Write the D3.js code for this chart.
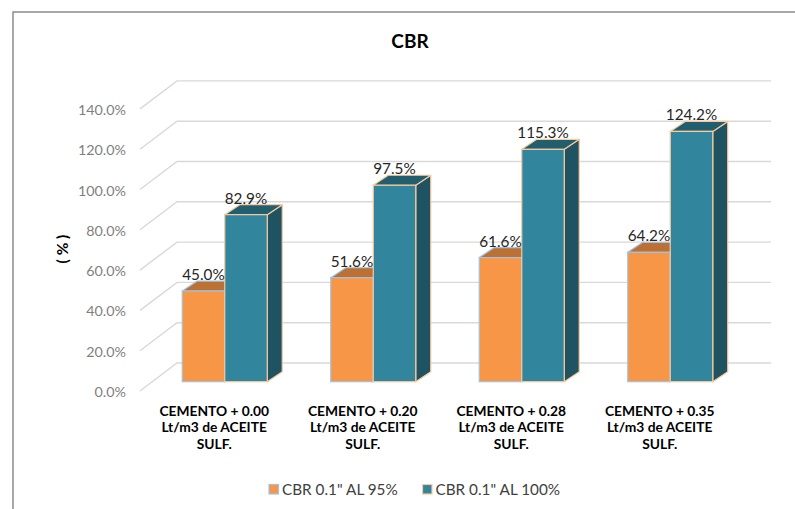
<!DOCTYPE html>
<html><head><meta charset="utf-8">
<script src="https://cdn.jsdelivr.net/npm/d3@7"></script>
<style>
html,body{margin:0;padding:0;background:#fff;}
svg{display:block;font-family:Lato, "Open Sans", sans-serif;}
</style></head>
<body>
<svg id="chart" width="795" height="509"></svg>
<script>
const categories = [
  ["CEMENTO + 0.00","Lt/m3 de ACEITE","SULF."],
  ["CEMENTO + 0.20","Lt/m3 de ACEITE","SULF."],
  ["CEMENTO + 0.28","Lt/m3 de ACEITE","SULF."],
  ["CEMENTO + 0.35","Lt/m3 de ACEITE","SULF."]
];
const seriesNames = ['CBR 0.1" AL 95%', 'CBR 0.1" AL 100%'];
const cbr95 = [45.0, 51.6, 61.6, 64.2];
const cbr100 = [82.9, 97.5, 115.3, 124.2];
const yTicks = [0, 20, 40, 60, 80, 100, 120, 140];

const svg = d3.select("#chart");
const W = 795, H = 509;

// frame
svg.append("rect").attr("x",13).attr("y",12).attr("width",W+20).attr("height",H+20)
  .attr("fill","#fff").attr("stroke","#8c8c8c").attr("stroke-width",1.5);

// title
svg.append("text").attr("x",410).attr("y",48).attr("text-anchor","middle")
  .attr("font-weight","bold").attr("font-size",19).attr("fill","#000").text("CBR");

// geometry
const frontX0 = 140, frontX1 = 734;
const depth = {dx: 37, dy: -28};
const y = d3.scaleLinear().domain([0,140]).range([391, 108.9]);
const x = d3.scaleBand().domain(d3.range(categories.length)).range([frontX0, frontX1]).paddingInner(0).paddingOuter(0);
const barShift = {dx: 10.5, dy: -9.3};
const barDepth = {dx: 15, dy: -10};
const groupPad = 31.75;
const xs = d3.scaleBand().domain([0,1]).range([0, x.bandwidth() - 2*groupPad]).padding(0);

// gridlines
const grid = svg.append("g").attr("stroke","#d9d9d9").attr("stroke-width",1.4).attr("fill","none");
yTicks.forEach(t => {
  const yy = y(t);
  grid.append("path").attr("d", `M${frontX0},${yy}L${frontX0+depth.dx},${yy+depth.dy}L${frontX1+depth.dx},${yy+depth.dy}`);
});

// y tick labels
svg.append("g").selectAll("text").data(yTicks).join("text")
  .attr("x",126).attr("y",d=>y(d)+1).attr("dy","0.35em").attr("text-anchor","end")
  .attr("font-size",14.3).attr("fill","#7f7f7f").text(d=>d.toFixed(1)+"%");

// y axis title
svg.append("text").attr("transform","translate(68,249) rotate(-90)").attr("text-anchor","middle")
  .attr("font-weight","bold").attr("font-size",15.5).attr("fill","#000").text("( % )");

const styles = [
  {front:"#F79646", top:"#BC7034", side:"#B0642C", stroke:"#9DC3E6"},
  {front:"#31859C", top:"#215F6E", side:"#1F5362", stroke:"#F9C99F"}
];
const series = [cbr95, cbr100];

function drawBar(g, x0, w, v, st){
  const yb = y(0) + barShift.dy, yt = y(v) + barShift.dy;
  const dx = barDepth.dx, dy = barDepth.dy;
  g.append("path").attr("d",`M${x0+w},${yb}L${x0+w+dx},${yb+dy}L${x0+w+dx},${yt+dy}L${x0+w},${yt}Z`)
    .attr("fill",st.side).attr("stroke",st.stroke).attr("stroke-width",1.2).attr("stroke-linejoin","round");
  g.append("path").attr("d",`M${x0},${yt}L${x0+dx},${yt+dy}L${x0+w+dx},${yt+dy}L${x0+w},${yt}Z`)
    .attr("fill",st.top).attr("stroke",st.stroke).attr("stroke-width",1.2).attr("stroke-linejoin","round");
  g.append("rect").attr("x",x0).attr("y",yt).attr("width",w).attr("height",yb-yt)
    .attr("fill",st.front).attr("stroke",st.stroke).attr("stroke-width",1.2);
}

const bars = svg.append("g");
const labels = [];
categories.forEach((c,i) => {
  const gx = x(i) + groupPad + barShift.dx;
  series.forEach((s,j) => {
    const bx = gx + xs(j);
    drawBar(bars, bx, xs.bandwidth(), s[i], styles[j]);
    labels.push({x: bx + xs.bandwidth()/2, y: y(s[i]) + barShift.dy - 11, t: s[i].toFixed(1)+"%"});
  });
});

svg.append("g").selectAll("text").data(labels).join("text")
  .attr("x",d=>d.x).attr("y",d=>d.y).attr("text-anchor","middle")
  .attr("font-size",15.3).attr("fill","#262626").text(d=>d.t);

// category labels
const cat = svg.append("g");
categories.forEach((c,i) => {
  const cx = x(i) + x.bandwidth()/2;
  const t = cat.append("text").attr("text-anchor","middle").attr("font-weight","bold")
    .attr("font-size",13.8).attr("fill","#000");
  c.forEach((line,k) => {
    t.append("tspan").attr("x",cx).attr("y",415.5 + k*16.5).text(line);
  });
});

// legend
const leg = svg.append("g");
const legItems = [{x:269}, {x:422.5}];
legItems.forEach((li,j) => {
  leg.append("rect").attr("x",li.x).attr("y",484.5).attr("width",9.5).attr("height",9.5)
    .attr("fill",styles[j].front).attr("stroke",styles[j].stroke).attr("stroke-width",1.2);
  leg.append("text").attr("x",li.x+13).attr("y",494.5).attr("font-size",15.3).attr("fill","#404040").text(seriesNames[j]);
});
</script>
</body></html>
